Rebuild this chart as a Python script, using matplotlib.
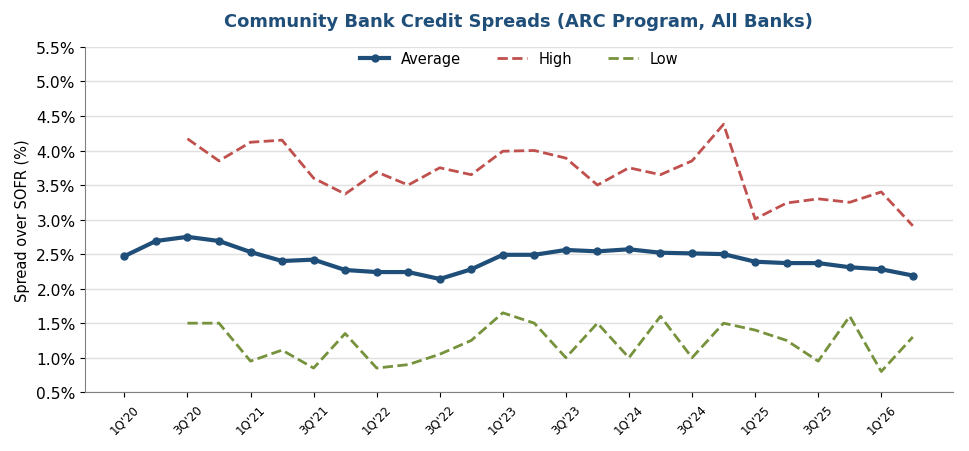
import matplotlib
matplotlib.use("Agg")
import matplotlib.pyplot as plt
from matplotlib.ticker import FuncFormatter, MultipleLocator

quarters = ["1Q'20","2Q'20","3Q'20","4Q'20","1Q'21","2Q'21","3Q'21","4Q'21",
            "1Q'22","2Q'22","3Q'22","4Q'22","1Q'23","2Q'23","3Q'23","4Q'23",
            "1Q'24","2Q'24","3Q'24","4Q'24","1Q'25","2Q'25","3Q'25","4Q'25",
            "1Q'26","2Q'26"]
average = [2.47,2.69,2.75,2.69,2.53,2.40,2.42,2.27,2.24,2.24,2.14,2.28,
           2.49,2.49,2.56,2.54,2.57,2.52,2.51,2.50,2.39,2.37,2.37,2.31,2.28,2.19]
high = [4.17,3.85,4.12,4.15,3.60,3.37,3.69,3.50,3.75,3.65,3.99,4.00,
        3.89,3.50,3.75,3.65,3.85,4.38,3.01,3.24,3.30,3.25,3.40,2.91]
low = [1.50,1.50,0.95,1.11,0.85,1.35,0.85,0.90,1.05,1.25,1.65,1.50,
       1.00,1.50,1.00,1.60,1.00,1.50,1.40,1.25,0.95,1.60,0.80,1.30]
hl_start = 2

fig = plt.figure(figsize=(9.69, 4.52), dpi=100)
ax = fig.add_axes([0.088, 0.13, 0.895, 0.764])

x = list(range(len(quarters)))
xh = x[hl_start:hl_start + len(high)]

ax.plot(x, average, color="#1f4e79", lw=3, marker="o", ms=5, label="Average", zorder=3)
ax.plot(xh, high, color="#c0504d", lw=2, ls="--", label="High")
ax.plot(xh, low, color="#76923c", lw=2, ls="--", label="Low")

ax.set_ylim(0.5, 5.5)
ax.yaxis.set_major_locator(MultipleLocator(0.5))
ax.yaxis.set_major_formatter(FuncFormatter(lambda v, p: f"{v:.1f}%"))
ax.set_xlim(-1.24, 26.26)
ax.set_xticks(x[::2])
ax.set_xticklabels(quarters[::2], rotation=45, fontsize=8.5)
ax.tick_params(axis="y", labelsize=11.2)
ax.grid(axis="y", color="#e0e0e0", lw=1)
ax.set_axisbelow(True)
for s in ["top", "right"]:
    ax.spines[s].set_visible(False)
for s in ["left", "bottom"]:
    ax.spines[s].set_color("#808080")
ax.set_ylabel("Spread over SOFR (%)", fontsize=10.5)
ax.set_title("Community Bank Credit Spreads (ARC Program, All Banks)",
             fontsize=12.9, fontweight="bold", color="#1f4e79", pad=15)
ax.legend(loc="upper center", ncol=3, frameon=False, fontsize=10.5,
          bbox_to_anchor=(0.5, 1.025), columnspacing=2.5)

fig.savefig("out.png", dpi=100)
